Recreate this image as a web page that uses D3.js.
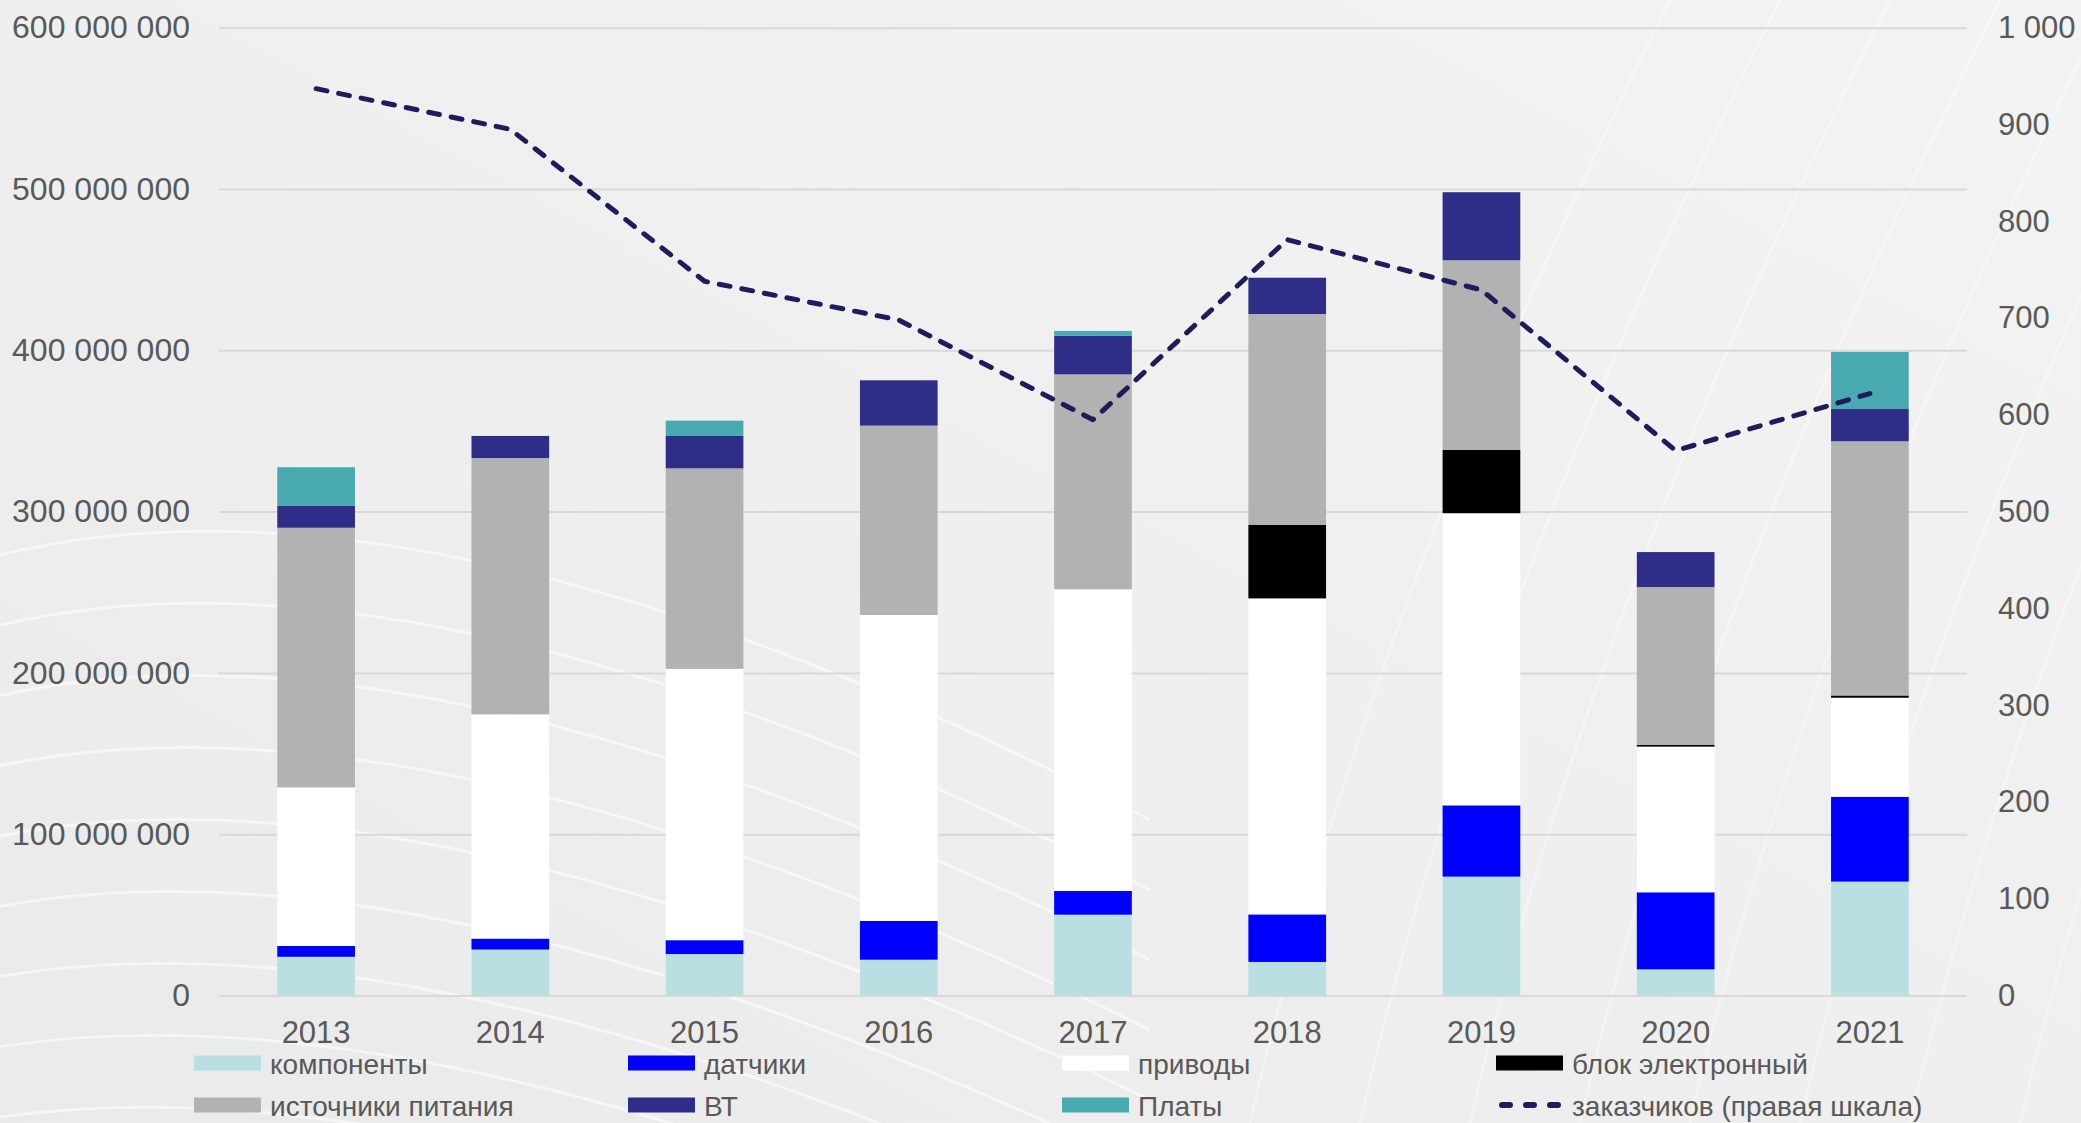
<!DOCTYPE html>
<html>
<head>
<meta charset="utf-8">
<script src="https://cdn.jsdelivr.net/npm/d3@7"></script>
<style>
  html, body { margin: 0; padding: 0; background: #efefef; }
  svg { display: block; }
  text { font-family: "Liberation Sans", Arial, sans-serif; }
</style>
</head>
<body>
<svg id="chart" width="2081" height="1123"></svg>
<script>
// ---- data ----
const years = ["2013", "2014", "2015", "2016", "2017", "2018", "2019", "2020", "2021"];
const komponenty = [24000000, 28500000, 25700000, 22200000, 50100000, 20800000, 73700000, 16200000, 70600000];
const datchiki   = [6700000, 6800000, 8600000, 24000000, 14700000, 29500000, 44200000, 47800000, 52600000];
const privody    = [98300000, 139000000, 168200000, 189700000, 187000000, 195900000, 181100000, 90300000, 61400000];
const blok       = [0, 0, 0, 0, 0, 45500000, 39200000, 1000000, 1400000];
const istochniki = [161000000, 158900000, 124300000, 117400000, 133300000, 130800000, 117600000, 97900000, 157600000];
const vt         = [13500000, 13700000, 20100000, 28100000, 23900000, 22500000, 42200000, 21700000, 20000000];
const platy      = [24000000, 0, 9500000, 0, 3000000, 0, 0, 0, 35400000];
const zakazchiki = [937, 895, 738, 698, 595, 781, 729, 563, 622];

const seriesNames = ["компоненты", "датчики", "приводы", "блок электронный", "источники питания", "ВТ", "Платы"];
const seriesValues = [komponenty, datchiki, privody, blok, istochniki, vt, platy];
const seriesColors = ["#BADFE2", "#0000FF", "#FFFFFF", "#000000", "#B2B2B2", "#2E2E88", "#48A9B0"];
const lineName = "заказчиков (правая шкала)";
const lineColor = "#1D1D5C";

const leftTicks = [0, 100000000, 200000000, 300000000, 400000000, 500000000, 600000000];
const rightTicks = [0, 100, 200, 300, 400, 500, 600, 700, 800, 900, 1000];

// ---- layout ----
const W = 2081, H = 1123;
const plotL = 219, plotR = 1967, plotT = 27.7, plotB = 995.5;
const textColor = "#595959";

const svg = d3.select("#chart");

// background
const defs = svg.append("defs");
const bg = defs.append("linearGradient").attr("id", "bg").attr("x1", "0").attr("y1", "1").attr("x2", "1").attr("y2", "0");
bg.append("stop").attr("offset", "0").attr("stop-color", "#eaeaea");
bg.append("stop").attr("offset", "0.5").attr("stop-color", "#efefef");
bg.append("stop").attr("offset", "1").attr("stop-color", "#f3f3f3");
svg.append("rect").attr("width", W).attr("height", H).attr("fill", "url(#bg)");

// faint decorative swirls
const swirl = svg.append("g").attr("fill", "none").attr("stroke", "#ffffff").attr("stroke-opacity", 0.55).attr("stroke-width", 3);
for (let i = 0; i < 9; i++) {
  const y0 = 560 + i * 70;
  swirl.append("path").attr("d", `M -20 ${y0} Q 420 ${y0 - 120 + i * 6} 1150 ${y0 + 260}`);
}
for (let i = 0; i < 8; i++) {
  const x0 = 1250 + i * 110;
  swirl.append("path").attr("stroke-opacity", 0.35).attr("d", `M ${x0} 1123 Q ${x0 + 120} 600 ${x0 + 420} 0`);
}

// scales
const x = d3.scaleBand().domain(years).range([plotL, plotR]).paddingInner(0.6).paddingOuter(0.3);
const y = d3.scaleLinear().domain([0, 600000000]).range([plotB, plotT]);
const yR = d3.scaleLinear().domain([0, 1000]).range([plotB, plotT]);

const spaceFmt = d => d3.format(",")(d).replace(/,/g, " ");

// gridlines
const grid = svg.append("g").attr("transform", `translate(${plotL},0)`)
  .call(d3.axisLeft(y).tickValues(leftTicks).tickSize(-(plotR - plotL)).tickFormat(""));
grid.select(".domain").remove();
grid.selectAll("line").attr("stroke", "#d9d9d9").attr("stroke-width", 2);

// left axis
const yAxis = svg.append("g").attr("transform", `translate(${plotL},0)`)
  .call(d3.axisLeft(y).tickValues(leftTicks).tickSize(0).tickPadding(29).tickFormat(spaceFmt));
yAxis.select(".domain").remove();
yAxis.selectAll("text").attr("fill", textColor).style("font-size", "32px");

// right axis
const yRAxis = svg.append("g").attr("transform", `translate(${plotR},0)`)
  .call(d3.axisRight(yR).tickValues(rightTicks).tickSize(0).tickPadding(31).tickFormat(spaceFmt));
yRAxis.select(".domain").remove();
yRAxis.selectAll("text").attr("fill", textColor).style("font-size", "31px");

// stacked bars
const table = years.map((yr, i) => {
  const row = { year: yr };
  seriesNames.forEach((n, k) => { row[n] = seriesValues[k][i]; });
  return row;
});
const stack = d3.stack().keys(seriesNames)(table);
const barsG = svg.append("g");
stack.forEach((layer, k) => {
  barsG.append("g").attr("fill", seriesColors[k])
    .selectAll("rect").data(layer).join("rect")
    .attr("x", d => x(d.data.year))
    .attr("width", x.bandwidth())
    .attr("y", d => y(d[1]))
    .attr("height", d => Math.max(0, y(d[0]) - y(d[1])));
});

// bottom axis
const xAxis = svg.append("g").attr("transform", `translate(0,${plotB})`)
  .call(d3.axisBottom(x).tickSize(0).tickPadding(25));
xAxis.select(".domain").remove();
xAxis.selectAll("text").attr("fill", textColor).style("font-size", "31px");

// line
const line = d3.line()
  .x((d, i) => x(years[i]) + x.bandwidth() / 2)
  .y(d => yR(d));
svg.append("path").datum(zakazchiki)
  .attr("d", line)
  .attr("fill", "none")
  .attr("stroke", lineColor)
  .attr("stroke-width", 5)
  .attr("stroke-linecap", "round")
  .attr("stroke-linejoin", "round")
  .attr("stroke-dasharray", "11,12");

// legend
const legendItems = seriesNames.map((n, k) => ({ name: n, color: seriesColors[k], type: "rect" }));
legendItems.push({ name: lineName, color: lineColor, type: "line" });
const colX = [194, 628, 1062, 1496];
const rowY = [1063, 1105];
const lg = svg.append("g");
legendItems.forEach((it, i) => {
  const cx = colX[i % 4], cy = rowY[Math.floor(i / 4)];
  const g = lg.append("g");
  if (it.type === "rect") {
    g.append("rect").attr("x", cx).attr("y", cy - 7.5).attr("width", 67).attr("height", 15).attr("fill", it.color);
  } else {
    g.append("line").attr("x1", cx + 6).attr("x2", cx + 62).attr("y1", cy).attr("y2", cy)
      .attr("stroke", it.color).attr("stroke-width", 6).attr("stroke-linecap", "round")
      .attr("stroke-dasharray", "8,16");
  }
  g.append("text").attr("x", cx + 76).attr("y", cy + 1).attr("dy", "0.35em")
    .attr("fill", textColor).style("font-size", "28px").text(it.name);
});
</script>
</body>
</html>
